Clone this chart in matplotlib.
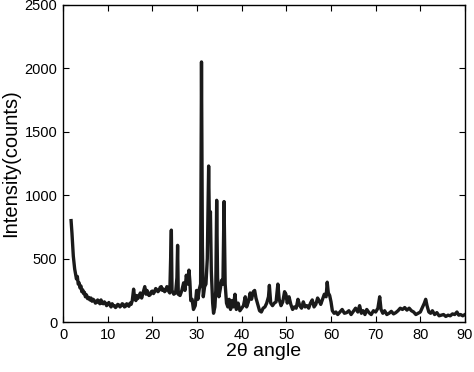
import numpy as np
import matplotlib
matplotlib.use("Agg")
import matplotlib.pyplot as plt

# XRD pattern (2theta in degrees, counts)
two_theta = [
    1.8, 2.0, 2.3, 2.6, 3.0, 3.2, 3.4, 3.6, 3.8, 4.0, 4.2, 4.4, 4.6, 4.8, 5.0,
    5.25, 5.5, 5.75, 6.0, 6.25, 6.5, 6.75, 7.0, 7.25, 7.5, 7.75, 8.0, 8.25,
    8.5, 8.75, 9.0, 9.25, 9.5, 9.75, 10.0, 10.25, 10.5, 10.75, 11.0, 11.25,
    11.5, 11.75, 12.0, 12.25, 12.5, 12.75, 13.0, 13.25, 13.5, 13.75, 14.0,
    14.25, 14.5, 14.75, 15.0, 15.25, 15.5, 15.8, 16.0, 16.3, 16.5, 16.7, 17.0,
    17.3, 17.6, 17.8, 18.0, 18.3, 18.6, 18.8, 19.0, 19.25, 19.5, 19.75, 20.0,
    20.25, 20.5, 20.75, 21.0, 21.25, 21.5, 21.75, 22.0, 22.25, 22.5, 22.75,
    23.0, 23.25, 23.5, 23.7, 23.9, 24.1, 24.25, 24.4, 24.8, 25.2, 25.5, 25.65,
    25.8, 26.2, 26.6, 27.0, 27.3, 27.6, 27.9, 28.2, 28.4, 28.6, 28.9, 29.2,
    29.6, 29.9, 30.2, 30.5, 30.8, 31.0, 31.2, 31.4, 31.7, 32.0, 32.3, 32.6,
    32.8, 33.0, 33.2, 33.5, 33.7, 34.0, 34.2, 34.4, 34.6, 34.9, 35.2, 35.5,
    35.8, 36.05, 36.3, 36.6, 36.9, 37.2, 37.5, 37.8, 38.1, 38.5, 38.8, 39.2,
    39.6, 40.0, 40.4, 40.8, 41.1, 41.5, 41.9, 42.2, 42.6, 42.9, 43.2, 43.6,
    44.0, 44.4, 44.8, 45.2, 45.6, 46.0, 46.2, 46.5, 46.9, 47.3, 47.7, 48.1,
    48.4, 48.8, 49.2, 49.6, 49.9, 50.2, 50.6, 51.0, 51.4, 51.8, 52.2, 52.6,
    53.0, 53.4, 53.8, 54.2, 54.6, 55.0, 55.4, 55.8, 56.2, 56.6, 57.0, 57.3,
    57.7, 58.1, 58.5, 58.9, 59.15, 59.4, 59.7, 60.0, 60.3, 60.7, 61.1, 61.5,
    62.0, 62.5, 63.0, 63.5, 64.0, 64.5, 65.0, 65.5, 66.0, 66.4, 66.8, 67.2,
    67.6, 68.0, 68.5, 69.0, 69.5, 70.0, 70.5, 70.9, 71.2, 71.6, 72.0, 72.5,
    73.0, 73.5, 74.0, 74.5, 75.0, 75.5, 76.0, 76.5, 77.0, 77.5, 78.0, 78.5,
    79.0, 79.5, 80.0, 80.5, 80.9, 81.2, 81.5, 81.9, 82.3, 82.7, 83.2, 83.7,
    84.2, 84.7, 85.2, 85.7, 86.2, 86.7, 87.2, 87.7, 88.2, 88.6, 89.0, 89.5,
    90.0,
]
counts = [
    800, 700, 520, 420, 340, 360, 300, 310, 270, 285, 240, 255, 225, 235, 200,
    215, 185, 195, 175, 190, 165, 180, 170, 150, 155, 175, 160, 145,
    175, 150, 145, 160, 150, 130, 140, 155, 135, 120, 145, 130,
    130, 115, 125, 140, 135, 120, 130, 145, 140, 120, 125,
    145, 135, 125, 150, 140, 170, 260, 200, 170, 210, 185, 200,
    230, 190, 215, 240, 280, 220, 250, 230, 210, 215, 240, 245,
    225, 240, 265, 255, 240, 250, 275, 280, 250, 260, 240,
    250, 280, 270, 240, 230, 500, 725, 250, 220, 230, 350, 605,
    220, 210, 250, 310, 250, 370, 300, 410, 320, 170, 180, 100,
    130, 250, 180, 260, 300, 2050, 600, 200, 280, 300, 500, 1230,
    700, 870, 400, 150, 70, 120, 250, 960, 350, 200, 260, 330,
    300, 950, 300, 150, 120, 180, 100, 170, 120, 220, 100, 150,
    90, 110, 130, 200, 120, 160, 230, 180, 240, 250, 190, 140,
    90, 80, 110, 120, 150, 200, 290, 150, 130, 150, 160, 300,
    180, 130, 160, 240, 220, 150, 200, 140, 100, 120, 110, 180,
    130, 110, 160, 120, 130, 110, 150, 175, 120, 140, 190, 170,
    140, 180, 220, 200, 315, 230, 210, 160, 90, 70, 80, 60,
    80, 100, 70, 75, 90, 60, 85, 110, 80, 130, 70, 90,
    60, 100, 75, 60, 90, 80, 110, 200, 100, 70, 90, 60,
    70, 85, 65, 75, 90, 110, 100, 115, 95, 110, 90, 80,
    60, 70, 80, 120, 150, 180, 130, 80, 70, 90, 60, 75,
    50, 55, 60, 45, 55, 50, 65, 60, 80, 55, 60, 50,
    60,
]

plt.rcParams['font.family'] = ['Liberation Sans', 'DejaVu Sans']

fig = plt.figure(figsize=(4.74, 3.72), dpi=100)
ax = fig.add_axes([0.133, 0.134, 0.848, 0.853])

ax.plot(two_theta, counts, color='#1a1a1a', lw=2.4)

ax.set_xlim(0, 90)
ax.set_ylim(0, 2500)
ax.set_xticks(np.arange(0, 91, 10))
ax.set_yticks(np.arange(0, 2501, 500))
ax.tick_params(direction='in', length=4, width=0.8, top=True, right=True,
               labelsize=10.5, pad=4)
for s in ax.spines.values():
    s.set_linewidth(1.0)

ax.set_xlabel('2θ angle', fontsize=14, labelpad=1)
ax.set_ylabel('Intensity(counts)', fontsize=14.5, labelpad=3)

fig.savefig('out.png', dpi=100)
